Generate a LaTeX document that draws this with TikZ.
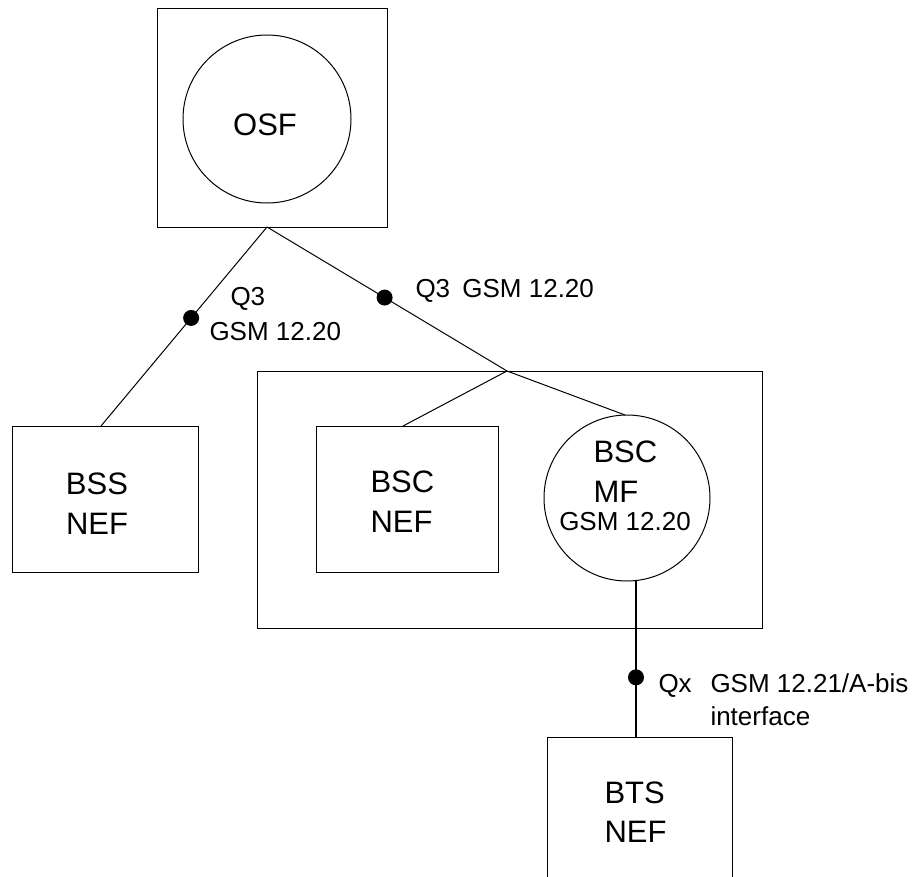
\documentclass[tikz,border=0pt]{standalone}
\usepackage{fontspec}
\setmainfont{Liberation Sans}
\usetikzlibrary{calc}
\begin{document}
\begin{tikzpicture}[x=1pt,y=-1pt,line width=1pt,
  box/.style={draw,rectangle,inner sep=0pt,outer sep=0pt},
  circ/.style={draw,circle,inner sep=0pt,outer sep=0pt},
  big/.style={font=\fontsize{31}{31}\selectfont,inner sep=0pt},
  small/.style={font=\fontsize{26}{26}\selectfont,inner sep=0pt},
  dot/.style={circle,fill=black,inner sep=0pt,minimum size=16pt},
  conn/.style={line width=1pt},
  thick conn/.style={line width=1.8pt}]
\useasboundingbox (0,0) rectangle (916,876);
% OSF
\node[box,minimum width=230pt,minimum height=219pt] (osfbox) at (272,117.5) {};
\node[circ,minimum size=168pt] (osf) at (267,119) {};
\node[big,anchor=base] (osft) at (265,135) {OSF};
% BSS NEF
\node[box,minimum width=186pt,minimum height=146pt] (bssbox) at (105,499) {};
\node[big,anchor=base] (bsst1) at (97,494) {BSS};
\node[big,anchor=base] (bsst2) at (97,534) {NEF};
% BSC group
\node[box,minimum width=505pt,minimum height=257pt] (bscgroup) at (509.5,499.5) {};
\node[box,minimum width=182pt,minimum height=146pt] (bscnef) at (407,499) {};
\node[big,anchor=base west] (bscnt1) at (370,492) {BSC};
\node[big,anchor=base west] (bscnt2) at (370,532) {NEF};
\node[circ,minimum size=166pt] (bscmf) at (627,498) {};
\node[big,anchor=base west] (mft1) at (593,462) {BSC};
\node[big,anchor=base west] (mft2) at (593,502) {MF};
\node[small,anchor=base] (mft3) at (625,530) {GSM 12.20};
% BTS NEF
\node[box,minimum width=185pt,minimum height=160pt] (btsbox) at (639.5,817) {};
\node[big,anchor=base west] (btst1) at (604,803) {BTS};
\node[big,anchor=base west] (btst2) at (604,842) {NEF};
% connection points
\coordinate (apex) at (267,227);
\coordinate (j) at (507,371);
\coordinate (vtop) at (636,580);
% connectors
\draw[conn] (apex) -- node[dot,pos=0.457] (dot1) {} ([xshift=-4pt]bssbox.north);
\draw[conn] (apex) -- node[dot,pos=0.49] (dot2) {} (j);
\draw[conn] (j) -- ([xshift=-4pt]bscnef.north);
\draw[conn] (j) -- ([xshift=-2pt]bscmf.north);
\draw[thick conn] (vtop) -- node[dot,pos=0.62] (dot3) {} (vtop |- btsbox.north);
% labels
\node[small,anchor=base west] (l1a) at (230,305) {Q3};
\node[small,anchor=base west] (l1b) at (209,340) {GSM 12.20};
\node[small,anchor=base west] (l2) at (415,297) {Q3\hspace{5pt} GSM 12.20};
\node[small,anchor=base west] (l3a) at (658,692) {Qx};
\node[small,anchor=base west] (l3b) at (710,692) {GSM 12.21/A-bis};
\node[small,anchor=base west] (l3c) at (710,725) {interface};
\end{tikzpicture}
\end{document}
